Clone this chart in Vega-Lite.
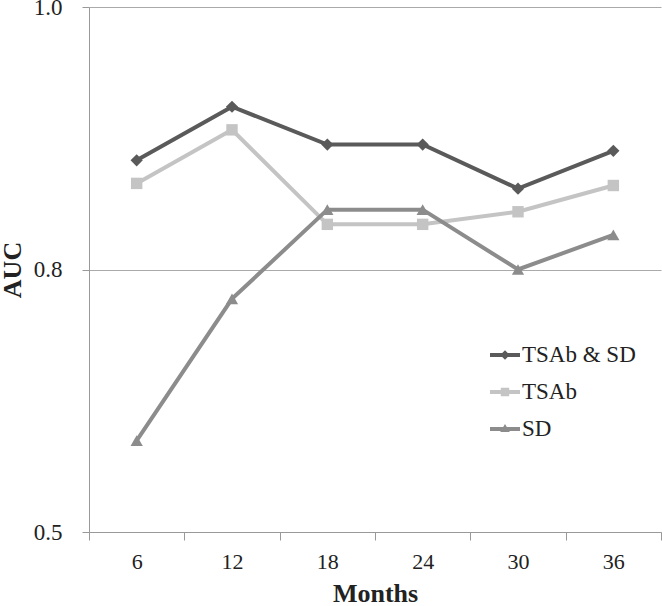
{
  "$schema": "https://vega.github.io/schema/vega-lite/v6.json",
  "width": 572,
  "height": 525,
  "autosize": {"type": "none"},
  "padding": {"left": 89, "top": 7, "right": 1, "bottom": 74},
  "background": "white",
  "config": {
    "view": {"stroke": null},
    "font": "Liberation Serif",
    "axis": {"labelFont": "Liberation Serif", "titleFont": "Liberation Serif", "labelColor": "#222", "titleColor": "#222"},
    "legend": {"labelFont": "Liberation Serif"}
  },
  "data": {
    "values": [
      {"month": "6", "series": "TSAb & SD", "auc": 0.854},
      {"month": "12", "series": "TSAb & SD", "auc": 0.905},
      {"month": "18", "series": "TSAb & SD", "auc": 0.869},
      {"month": "24", "series": "TSAb & SD", "auc": 0.869},
      {"month": "30", "series": "TSAb & SD", "auc": 0.827},
      {"month": "36", "series": "TSAb & SD", "auc": 0.863},
      {"month": "6", "series": "TSAb", "auc": 0.832},
      {"month": "12", "series": "TSAb", "auc": 0.883},
      {"month": "18", "series": "TSAb", "auc": 0.793},
      {"month": "24", "series": "TSAb", "auc": 0.793},
      {"month": "30", "series": "TSAb", "auc": 0.805},
      {"month": "36", "series": "TSAb", "auc": 0.830},
      {"month": "6", "series": "SD", "auc": 0.587},
      {"month": "12", "series": "SD", "auc": 0.722},
      {"month": "18", "series": "SD", "auc": 0.807},
      {"month": "24", "series": "SD", "auc": 0.807},
      {"month": "30", "series": "SD", "auc": 0.750},
      {"month": "36", "series": "SD", "auc": 0.783}
    ]
  },
  "encoding": {
    "x": {
      "field": "month",
      "type": "ordinal",
      "sort": ["6", "12", "18", "24", "30", "36"],
      "bandPosition": 0.5,
      "scale": {"type": "band", "paddingInner": 0, "paddingOuter": 0},
      "axis": {
        "title": "Months",
        "titleFontSize": 26,
        "titleFontWeight": "bold",
        "titlePadding": 8,
        "labelFontSize": 22,
        "labelAngle": 0,
        "labelPadding": 11,
        "tickBand": "extent",
        "tickSize": 8,
        "tickColor": "#999",
        "domainColor": "#999",
        "grid": false
      }
    },
    "y": {
      "field": "auc",
      "type": "quantitative",
      "scale": {"domain": [0.5, 1.0], "nice": false, "zero": false},
      "axis": {
        "title": "AUC",
        "titleFontSize": 26,
        "titleFontWeight": "bold",
        "titlePadding": 8,
        "values": [0.5, 0.75, 1.0],
        "format": ".1f",
        "labelFontSize": 23,
        "labelPadding": 20,
        "tickSize": 7,
        "tickColor": "#999",
        "domainColor": "#999",
        "grid": true,
        "gridColor": "#aaa",
        "gridOpacity": 1
      }
    },
    "color": {
      "field": "series",
      "type": "nominal",
      "scale": {"domain": ["TSAb & SD", "TSAb", "SD"], "range": ["#5a5a5a", "#c4c4c4", "#8c8c8c"]},
      "legend": {
        "title": null,
        "orient": "none",
        "legendX": 401,
        "legendY": 333,
        "padding": 0,
        "symbolSize": 900,
        "labelFont": "Liberation Serif",
        "labelFontSize": 23,
        "labelColor": "#222",
        "labelOffset": 2,
        "rowPadding": 10,
        "encode": {
          "symbols": {
            "update": {
              "shape": {"signal": "datum.value === 'TSAb & SD' ? 'M-1,-0.14L1,-0.14L1,0.14L-1,0.14Z M0,-0.32L0.32,0L0,0.32L-0.32,0Z' : datum.value === 'TSAb' ? 'M-1,-0.14L1,-0.14L1,0.14L-1,0.14Z M-0.28,-0.28L0.28,-0.28L0.28,0.28L-0.28,0.28Z' : 'M-1,-0.14L1,-0.14L1,0.14L-1,0.14Z M0,-0.34L0.32,0.2L-0.32,0.2Z'"},
              "fill": {"signal": "scale('color', datum.value)"},
              "fillOpacity": {"value": 1},
              "strokeWidth": {"value": 0}
            }
          }
        }
      }
    }
  },
  "layer": [
    {
      "mark": {"type": "line", "strokeWidth": 4}
    },
    {
      "transform": [{"filter": "datum.series === 'TSAb & SD'"}],
      "mark": {"type": "point", "filled": true, "size": 150, "opacity": 1, "shape": "diamond"}
    },
    {
      "transform": [{"filter": "datum.series === 'TSAb'"}],
      "mark": {"type": "point", "filled": true, "size": 130, "opacity": 1, "shape": "square"}
    },
    {
      "transform": [{"filter": "datum.series === 'SD'"}],
      "mark": {"type": "point", "filled": true, "size": 150, "opacity": 1, "shape": "triangle-up"}
    }
  ]
}
